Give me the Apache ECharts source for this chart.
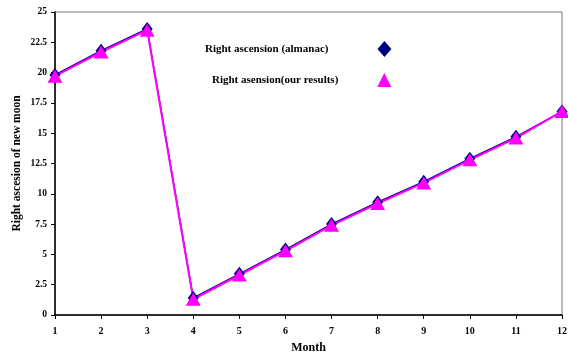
<!DOCTYPE html>
<html>
<head>
<meta charset="utf-8">
<script src="https://cdn.jsdelivr.net/npm/echarts@6/dist/echarts.min.js"></script>
<style>
html, body { margin: 0; padding: 0; background: #fff; }
#chartDom { width: 568px; height: 352px; }
</style>
</head>
<body>
<div id="chartDom"></div>
<script>
var months = [1, 2, 3, 4, 5, 6, 7, 8, 9, 10, 11, 12];
var almanac = [19.8, 21.8, 23.6, 1.4, 3.4, 5.4, 7.5, 9.3, 11.0, 12.9, 14.7, 16.8];
var ourResults = [19.7, 21.7, 23.5, 1.3, 3.3, 5.3, 7.4, 9.2, 10.9, 12.8, 14.6, 16.8];

var font = 'Liberation Serif';

function pairs(vals) {
	return months.map(function(m, i) {
		return [m, vals[i]];
	});
}

var dom = document.getElementById('chartDom');
var myChart = echarts.init(dom);

var option = {
	animation: false,
	textStyle: {
		fontFamily: font,
		fontWeight: 'bold',
		color: '#000'
	},
	grid: {
		left: 55,
		right: 6,
		top: 12,
		bottom: 37,
		outerBoundsMode: 'none',
		containLabel: false,
		show: true,
		borderColor: '#777',
		borderWidth: 1
	},
	legend: [{
		left: 200,
		top: 36,
		align: 'right',
		itemWidth: 14,
		itemHeight: 16,
		textStyle: {
			fontFamily: font,
			fontWeight: 'bold',
			fontSize: 11,
			color: '#000',
			padding: [0, 44, 0, 0]
		},
		data: [{ name: 'Right ascension (almanac)', icon: 'diamond' }]
	}, {
		left: 207,
		top: 68,
		align: 'right',
		itemWidth: 14,
		itemHeight: 14,
		textStyle: {
			fontFamily: font,
			fontWeight: 'bold',
			fontSize: 11,
			color: '#000',
			padding: [0, 34, 0, 0]
		},
		data: [{ name: 'Right asension(our results)', icon: 'triangle' }]
	}],
	xAxis: {
		type: 'value',
		min: 1,
		max: 12,
		interval: 1,
		name: 'Month',
		nameLocation: 'middle',
		nameGap: 27,
		nameTextStyle: {
			fontFamily: font,
			fontWeight: 'bold',
			fontSize: 12,
			color: '#000'
		},
		splitLine: { show: false },
		axisLine: { lineStyle: { color: '#000', width: 1.5 } },
		axisTick: { length: 4, lineStyle: { color: '#000' } },
		axisLabel: {
			fontFamily: font,
			fontWeight: 'bold',
			fontSize: 10,
			margin: 11,
			color: '#000'
		}
	},
	yAxis: {
		type: 'value',
		min: 0,
		max: 25,
		interval: 2.5,
		name: 'Right ascesion of new moon',
		nameLocation: 'middle',
		nameGap: 32,
		nameMoveOverlap: false,
		nameTextStyle: {
			fontFamily: font,
			fontWeight: 'bold',
			fontSize: 11.5,
			color: '#000'
		},
		splitLine: { show: false },
		axisLine: { show: true, lineStyle: { color: '#000', width: 1.5 } },
		axisTick: { show: true, length: 4, lineStyle: { color: '#000' } },
		axisLabel: {
			fontFamily: font,
			fontWeight: 'bold',
			fontSize: 9.5,
			margin: 8,
			color: '#000'
		}
	},
	series: [{
		name: 'Right ascension (almanac)',
		type: 'line',
		data: pairs(almanac),
		symbol: 'diamond',
		symbolSize: [11, 14],
		itemStyle: { color: '#000080' },
		lineStyle: { color: '#000080', width: 1.5 }
	}, {
		name: 'Right asension(our results)',
		type: 'line',
		data: pairs(ourResults),
		symbol: 'triangle',
		symbolSize: [15, 13],
		itemStyle: { color: '#FF00FF' },
		lineStyle: { color: '#FF00FF', width: 2 }
	}]
};

myChart.setOption(option, true);
</script>
</body>
</html>
